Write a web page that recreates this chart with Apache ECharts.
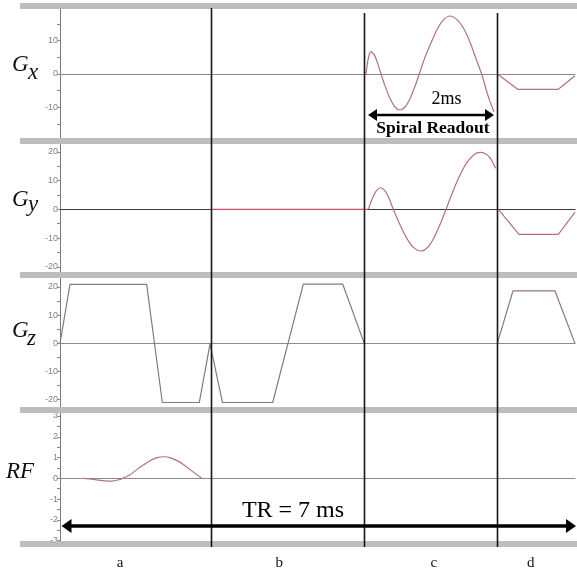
<!DOCTYPE html>
<html><head><meta charset="utf-8">
<script src="https://cdn.jsdelivr.net/npm/echarts@6/dist/echarts.min.js"></script>
<style>html,body{margin:0;padding:0;background:#fff}#c{width:577px;height:573px}</style>
</head><body><div id="c"></div>
<script>
// ---- data (time in ms, amplitude in panel units) ----
const TR = 7;
const phaseBounds = [2.048, 4.136, 5.944];
const phaseLabels = ['a', 'b', 'c', 'd'];
const phaseLabelT = [0.816, 2.98, 5.08, 6.40];

const gxReadout = [[4.159,0],[4.190,4.6],[4.223,6.7],[4.268,5.9],[4.315,3.4],[4.363,0],[4.417,-3.5],[4.485,-7.3],[4.553,-9.9],[4.621,-10.8],[4.689,-9.9],[4.757,-7.4],[4.825,-3.7],[4.884,0],[4.961,5.0],[5.043,9.4],[5.124,13.3],[5.206,16.1],[5.301,17.4],[5.396,16.3],[5.491,13.5],[5.573,9.5],[5.654,4.6],[5.732,0],[5.790,-4.5],[5.845,-8.3],[5.899,-11.3]];
const gxRewind = [[5.944,0],[6.221,-4.6],[6.773,-4.6],[7.0,-0.5]];

const gyFlat = [[2.048,0],[4.190,0]];
const gyReadout = [[4.190,0],[4.241,3.4],[4.295,6.2],[4.359,7.5],[4.417,6.4],[4.472,3.8],[4.530,0],[4.621,-5.4],[4.716,-10.2],[4.812,-13.4],[4.907,-14.5],[5.002,-13.1],[5.083,-9.9],[5.165,-5.3],[5.247,0],[5.342,6.3],[5.437,11.9],[5.532,16.3],[5.627,19.0],[5.709,19.8],[5.777,19.4],[5.845,17.9],[5.922,14.3]];
const gyRewind = [[5.958,0],[6.239,-8.7],[6.773,-8.7],[7.0,-1.0]];

const gzPrep = [[0,0],[0.136,20.9],[1.178,20.9],[1.391,-21.0],[1.893,-21.0],[2.039,-0.2],[2.209,-21.0],[2.891,-21.0],[3.307,21.0],[3.843,21.0],[4.136,0]];
const gzSpoil = [[5.944,0],[6.157,18.6],[6.728,18.6],[7.0,0]];

const rfPulse = [[0.317,0],[0.476,-0.06],[0.612,-0.12],[0.703,-0.13],[0.788,-0.08],[0.852,0],[0.951,0.17],[1.087,0.53],[1.223,0.85],[1.332,1.01],[1.400,1.04],[1.495,1.00],[1.631,0.78],[1.767,0.42],[1.926,0]];

// tick-label sets per panel
const gxTicks = [-10, 0, 10];
const gyTicks = [-20, -10, 0, 10, 20];
const gzTicks = [-20, -10, 0, 10, 20];
const rfTicks = [-3, -2, -1, 0, 1, 2, 3];

// ---- layout / style ----
const panels = [
  {top: 7,   bottom: 140, min: -19.8, max: 20.1, split: 8,  ticks: gxTicks, zero: '#8a8a8a'},
  {top: 142, bottom: 274, min: -22.5, max: 23.4, split: 9,  ticks: gyTicks, zero: '#3a3a3a'},
  {top: 276, bottom: 409, min: -23.3, max: 23.9, split: 9,  ticks: gzTicks, zero: '#8a8a8a'},
  {top: 411, bottom: 543, min: -3.11, max: 3.24, split: 12, ticks: rfTicks, zero: '#8a8a8a'}
];
const W = 577, H = 573;
const gridLeft = 60, gridRight = 2;
const curveColor = '#b07474';
const serif = '"Liberation Serif", "Times New Roman", serif';

const grids = [], xAxes = [], yAxes = [];
panels.forEach((p, i) => {
  grids.push({left: gridLeft, right: gridRight, top: p.top, height: p.bottom - p.top});
  xAxes.push({gridIndex: i, type: 'value', min: 0, max: TR,
    axisLine: {show: true, onZero: true, lineStyle: {color: p.zero, width: 1.2}},
    axisTick: {show: false}, axisLabel: {show: false}, splitLine: {show: false}});
  yAxes.push({gridIndex: i, type: 'value', min: p.min, max: p.max, splitNumber: p.split,
    axisLine: {show: true, onZero: false, lineStyle: {color: '#7a7a7a', width: 1}},
    axisTick: {show: true, length: 3, lineStyle: {color: '#8a8a8a'}},
    axisLabel: {fontSize: 9, color: '#808080', margin: 2, fontFamily: 'Liberation Sans, Arial, sans-serif',
      formatter: v => p.ticks.some(t => Math.abs(t - v) < 1e-6) ? String(Math.round(v)) : ''},
    splitLine: {show: false}});
});

function lineSeries(idx, data, smooth, color, width) {
  return {type: 'line', xAxisIndex: idx, yAxisIndex: idx, data: data, smooth: smooth,
    showSymbol: false, symbol: 'none', silent: true, animation: false,
    lineStyle: {color: color || curveColor, width: width || 1.2}, z: 3};
}

const series = [
  lineSeries(0, gxReadout, 0.25),
  lineSeries(0, gxRewind, false),
  lineSeries(1, gyFlat, false, '#c85560', 1.2),
  lineSeries(1, gyReadout, 0.25),
  lineSeries(1, gyRewind, false),
  lineSeries(2, gzPrep, false, '#8e7676'),
  lineSeries(2, gzSpoil, false, '#8e7676'),
  lineSeries(3, rfPulse, 0.25)
];

const chart = echarts.init(document.getElementById('c'), null, {renderer: 'canvas'});
chart.setOption({animation: false, backgroundColor: '#fff', grid: grids, xAxis: xAxes, yAxis: yAxes, series: series});

const px = t => chart.convertToPixel({xAxisIndex: 0}, t);

const g = [];
// separator bars
[3, 138, 272, 407, 541].forEach(y => g.push({type: 'rect', shape: {x: 20, y: y, width: W - 20, height: 6}, style: {fill: '#bdbdbd'}, z: 50}));
// phase boundary lines
const vTop = [8, 13, 13];
phaseBounds.forEach((t, i) => {
  const x = Math.round(px(t)) + 0.5;
  g.push({type: 'line', shape: {x1: x, y1: vTop[i], x2: x, y2: 547}, style: {stroke: '#161616', lineWidth: 1.6}, z: 60});
});
// phase letters
phaseLabels.forEach((s, i) => g.push({type: 'text', x: px(phaseLabelT[i]), y: 563, z: 60,
  style: {text: s, fontFamily: serif, fontSize: 15, fill: '#111', align: 'center', verticalAlign: 'middle'}}));

// panel names
function txt(s, x, y, size, opts) {
  g.push({type: 'text', x: x, y: y, z: 60, style: Object.assign({text: s, fontFamily: serif, fontSize: size, fill: '#111', align: 'left', verticalAlign: 'middle'}, opts || {})});
}
txt('G', 12, 64.5, 23, {fontStyle: 'italic'}); txt('x', 28, 72.5, 23, {fontStyle: 'italic'});
txt('G', 12, 200, 23, {fontStyle: 'italic'}); txt('y', 28, 204.5, 23, {fontStyle: 'italic'});
txt('G', 12, 330.5, 23, {fontStyle: 'italic'}); txt('z', 27, 339, 23, {fontStyle: 'italic'});
txt('RF', 6, 471.5, 23, {fontStyle: 'italic'});

// arrows
function arrow(x1, x2, y, lw, hl, hw) {
  g.push({type: 'line', shape: {x1: x1 + hl - 1, y1: y, x2: x2 - hl + 1, y2: y}, style: {stroke: '#000', lineWidth: lw}, z: 70});
  g.push({type: 'polygon', shape: {points: [[x1, y], [x1 + hl, y - hw], [x1 + hl, y + hw]]}, style: {fill: '#000'}, z: 70});
  g.push({type: 'polygon', shape: {points: [[x2, y], [x2 - hl, y - hw], [x2 - hl, y + hw]]}, style: {fill: '#000'}, z: 70});
}
arrow(368, 494, 115, 2.5, 9, 6);
arrow(px(0) + 1.5, px(TR) + 1, 526, 3.5, 10, 7);

txt('2ms', 446.5, 99.5, 18, {align: 'center', fill: '#000'});
txt('Spiral Readout', 433, 128, 17.5, {align: 'center', fontWeight: 'bold', fill: '#000'});
txt('TR = 7 ms', 293, 510.5, 24, {align: 'center', fill: '#000'});

chart.setOption({graphic: g});
</script></body></html>
